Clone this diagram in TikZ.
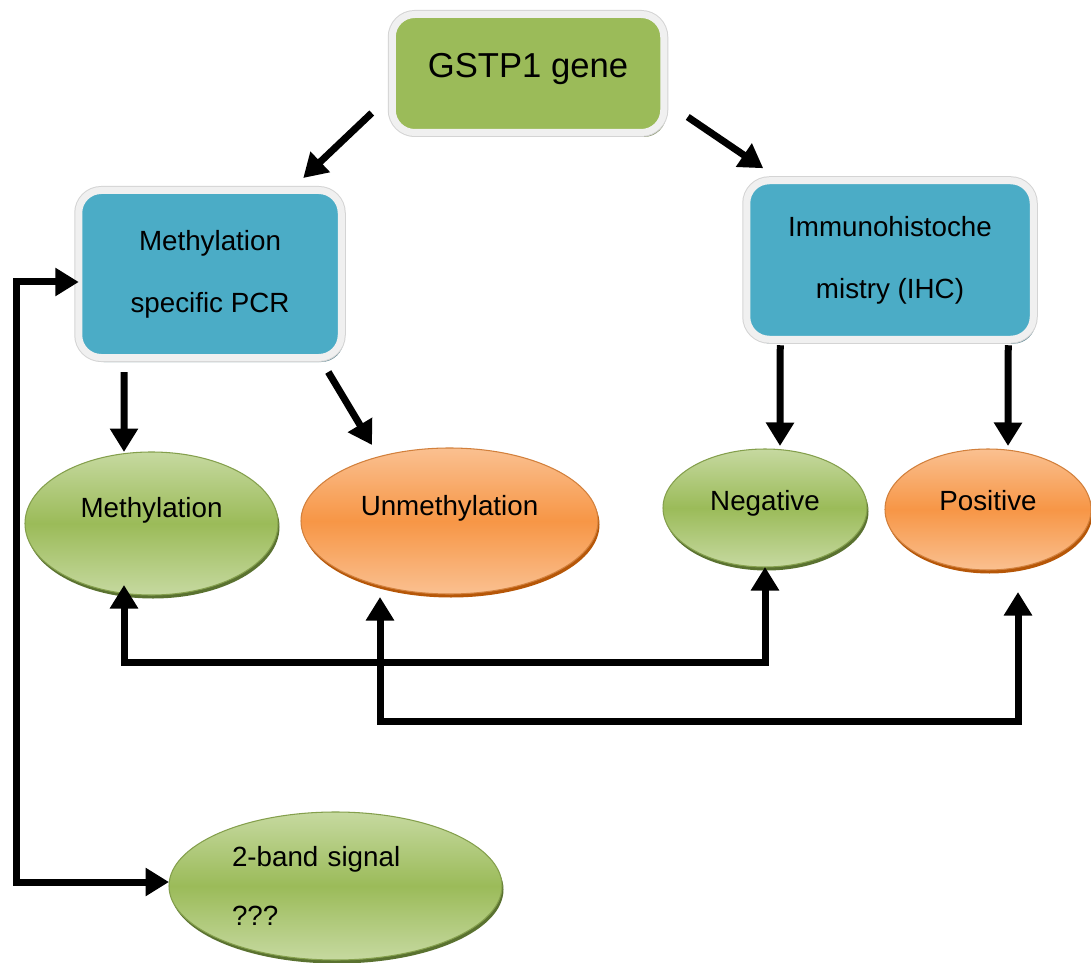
\documentclass[tikz,border=0pt]{standalone}
\usepackage{fontspec}
\setmainfont{Liberation Sans}
\usetikzlibrary{arrows.meta,shapes.geometric,shadows}

\definecolor{olivegreen}{HTML}{9BBB59}
\definecolor{lightgreen}{HTML}{C6D9A0}
\definecolor{darkgreen}{HTML}{5A7230}
\definecolor{tealblue}{HTML}{4BACC6}
\definecolor{orangemid}{HTML}{F79646}
\definecolor{orangelight}{HTML}{FAC090}
\definecolor{orangeshade}{HTML}{B65708}
\definecolor{rim}{HTML}{F0F0F0}
\definecolor{rimedge}{HTML}{D4D4D4}

\begin{document}
\begin{tikzpicture}[
    box/.style={rectangle, rounded corners=0.45cm, outer sep=0pt, fill=#1,
        general shadow={shadow xshift=0.05cm, shadow yshift=-0.09cm, fill=#1!40!gray},
        preaction={draw=rimedge, line width=0.18cm},
        draw=rim, line width=0.14cm, align=center, font=\fontsize{15.8}{35.2}\selectfont},
    box/.default=tealblue,
    oval/.style={ellipse, inner sep=0pt, outer sep=0pt, line width=0.6pt, font=\fontsize{15.8}{34}\selectfont},
    greenoval/.style={oval, draw=olivegreen!85!black, top color=lightgreen, bottom color=lightgreen, middle color=olivegreen,
        general shadow={shadow xshift=0.03cm, shadow yshift=-0.07cm, fill=darkgreen}},
    orangeoval/.style={oval, draw=orangemid!85!black, top color=orangelight, bottom color=orangelight, middle color=orangemid,
        general shadow={shadow xshift=0.03cm, shadow yshift=-0.07cm, fill=orangeshade}},
    lift/.style={text height=0.45cm, text depth=#1},
    arrow/.style={line width=0.14cm, -{Triangle[length=0.47cm, width=0.54cm]}},
    twoway/.style={line width=0.14cm, {Triangle[length=0.47cm, width=0.54cm]}-{Triangle[length=0.47cm, width=0.54cm]}}
]
\path[use as bounding box, fill=white] (0,0) rectangle (21.82,-19.26);

\node[box=olivegreen, minimum width=5.43cm, minimum height=2.36cm, font=\fontsize{19.7}{24}\selectfont, text height=0.55cm, text depth=0.39cm] (gene) at (10.56,-1.47) {GSTP1 gene};
\node[box, minimum width=5.25cm, minimum height=3.34cm] (pcr) at (4.2,-5.48) {Methylation\\specific PCR};
\node[box, minimum width=5.73cm, minimum height=3.17cm] (ihc) at (17.8,-5.2) {Immunohistoche\\mistry (IHC)};

\node[greenoval, minimum width=5.06cm, minimum height=2.86cm, lift=0.71cm] (meth) at (3.03,-10.47) {Methylation};
\node[orangeoval, minimum width=5.94cm, minimum height=2.92cm, lift=0.69cm] (unmeth) at (8.99,-10.42) {Unmethylation};
\node[greenoval, minimum width=4.08cm, minimum height=2.36cm, lift=0.37cm] (neg) at (15.3,-10.16) {Negative};
\node[orangeoval, minimum width=4.12cm, minimum height=2.42cm, lift=0.43cm] (pos) at (19.76,-10.19) {Positive};
\node[greenoval, minimum width=6.66cm, minimum height=2.96cm, text width=4.14cm, align=left] (band) at (6.71,-17.72) {2-band signal\\???};

\draw[arrow] ([xshift=-0.41cm,yshift=0.39cm]gene.south west) -- ([xshift=-0.76cm,yshift=0.25cm]pcr.north east);
\draw[arrow] ([xshift=0.48cm,yshift=0.31cm]gene.south east) -- ([xshift=0.33cm,yshift=0.25cm]ihc.north west);
\draw[arrow] ([xshift=-1.72cm,yshift=-0.29cm]pcr.south) -- ([xshift=-0.55cm]meth.north);
\draw[arrow] ([xshift=-0.26cm,yshift=-0.29cm]pcr.south east) -- ([xshift=-1.55cm,yshift=0.06cm]unmeth.north);
\draw[arrow] ([xshift=0.67cm,yshift=-0.12cm]ihc.south west) -- ([xshift=0.3cm,yshift=0.06cm]neg.north);
\draw[arrow] ([xshift=-0.5cm,yshift=-0.12cm]ihc.south east) -- ([xshift=0.4cm,yshift=0.06cm]pos.north);

\draw[twoway] ([xshift=-0.55cm,yshift=0.2cm]meth.south) -- ++(0,-1.54) -| (neg.south);
\draw[twoway] ([xshift=-1.39cm,yshift=-0.06cm]unmeth.south) -- ++(0,-2.48) -| ([xshift=0.6cm,yshift=-0.44cm]pos.south);
\draw[twoway] ([yshift=-0.16cm]pcr.west) -- ++(-1.25,0) |- ([yshift=0.08cm]band.west);
\end{tikzpicture}
\end{document}
